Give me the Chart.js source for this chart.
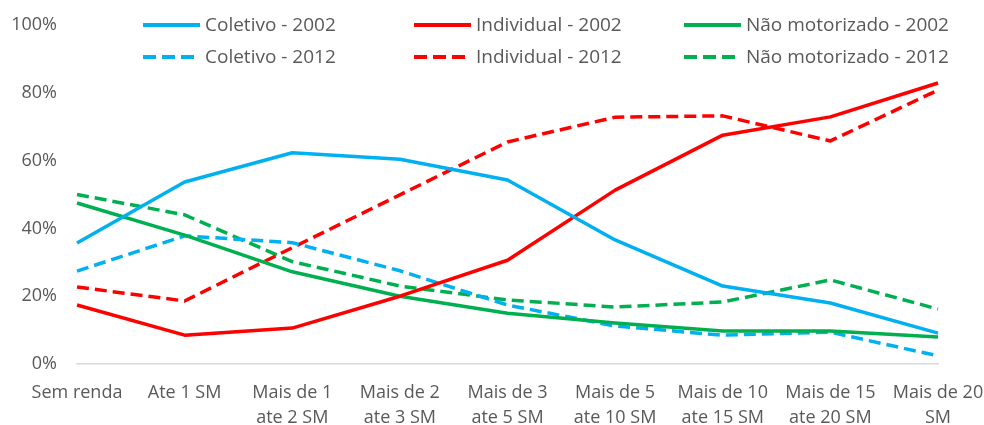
<!DOCTYPE html>
<html>
<head>
<meta charset="utf-8">
<script src="https://cdn.jsdelivr.net/npm/chart.js@4.4.1/dist/chart.umd.min.js"></script>
<style>
html,body{margin:0;padding:0;background:#fff;}
#wrap{width:984px;height:425px;position:relative;}
</style>
</head>
<body>
<div id="wrap"><canvas id="c" width="984" height="425"></canvas></div>
<script>
const categories = [
  "Sem renda",
  "Ate 1 SM",
  ["Mais de 1", "ate 2 SM"],
  ["Mais de 2", "ate 3 SM"],
  ["Mais de 3", "ate 5 SM"],
  ["Mais de 5", "ate 10 SM"],
  ["Mais de 10", "ate 15 SM"],
  ["Mais de 15", "ate 20 SM"],
  ["Mais de 20", "SM"]
];
const coletivo2002     = [35.7, 53.7, 62.3, 60.4, 54.3, 36.6, 23.0, 18.0, 9.1];
const individual2002   = [17.4, 8.5, 10.6, 20.0, 30.6, 51.3, 67.5, 72.9, 82.9];
const naoMotor2002     = [47.5, 38.0, 27.2, 20.0, 15.0, 12.1, 9.7, 9.7, 8.0];
const coletivo2012     = [27.4, 37.8, 35.8, 27.5, 17.4, 11.2, 8.5, 9.4, 2.4];
const individual2012   = [22.7, 18.6, 34.3, 49.9, 65.5, 72.8, 73.2, 65.8, 80.8];
const naoMotor2012     = [50.0, 44.0, 30.2, 23.0, 18.9, 16.8, 18.3, 24.8, 16.2];
const yTicks = [0, 20, 40, 60, 80, 100];

const BLUE = '#00B0F0', RED = '#FF0000', GREEN = '#00B050';
const DASH = [12, 6];
const FONT = '"Open Sans", sans-serif';
const TXT = '#595959';

function ds(label, data, color, dashed) {
  return {
    label, data,
    borderColor: color, backgroundColor: color,
    borderWidth: 3.5,
    borderDash: dashed ? DASH : [],
    pointRadius: 0, pointHoverRadius: 0,
    tension: 0, fill: false,
    borderCapStyle: 'butt', borderJoinStyle: 'round'
  };
}

const datasets = [
  ds('Coletivo - 2002', coletivo2002, BLUE, false),
  ds('Individual - 2002', individual2002, RED, false),
  ds('Não motorizado - 2002', naoMotor2002, GREEN, false),
  ds('Coletivo - 2012', coletivo2012, BLUE, true),
  ds('Individual - 2012', individual2012, RED, true),
  ds('Não motorizado - 2012', naoMotor2012, GREEN, true)
];

const legendPlugin = {
  id: 'customLegend',
  afterDraw(chart) {
    const ctx = chart.ctx;
    const colX = [143, 414, 684];
    const rowY = [25, 57];
    const lineLen = 57;
    ctx.save();
    ctx.font = '19px ' + FONT;
    ctx.textBaseline = 'middle';
    ctx.textAlign = 'left';
    chart.data.datasets.forEach((d, i) => {
      const col = i % 3, row = Math.floor(i / 3);
      const x = colX[col], y = rowY[row];
      ctx.beginPath();
      ctx.strokeStyle = d.borderColor;
      ctx.lineWidth = 4;
      ctx.lineCap = 'butt';
      ctx.setLineDash(d.borderDash.length ? [13, 6] : []);
      ctx.moveTo(x, y);
      ctx.lineTo(x + lineLen, y);
      ctx.stroke();
      ctx.setLineDash([]);
      ctx.fillStyle = TXT;
      ctx.fillText(d.label, x + lineLen + 5, y + 1);
    });
    ctx.restore();
  }
};

new Chart(document.getElementById('c'), {
  type: 'line',
  data: { labels: categories, datasets },
  options: {
    responsive: false,
    animation: false,
    devicePixelRatio: 1,
    layout: { padding: { top: 25, left: 0, right: 46, bottom: 0 } },
    plugins: { legend: { display: false }, tooltip: { enabled: false } },
    scales: {
      x: {
        offset: false,
        grid: { display: false, drawTicks: false },
        border: { display: true, color: '#d9d9d9', width: 1.5 },
        ticks: {
          color: TXT, font: { family: FONT, size: 18, lineHeight: 1.4 },
          padding: 16, maxRotation: 0, minRotation: 0, autoSkip: false
        },
        afterFit(scale) {
          scale.height = 61;
          scale.paddingLeft = 0;
          scale.paddingRight = 0;
        }
      },
      y: {
        min: 0, max: 100,
        afterBuildTicks(scale) { scale.ticks = yTicks.map(v => ({ value: v })); },
        grid: { display: false, drawTicks: false },
        border: { display: false },
        ticks: {
          color: TXT, font: { family: FONT, size: 18 },
          padding: 20,
          callback: v => v + '%'
        },
        afterFit(scale) {
          scale.width = 77;
          scale.paddingTop = 0;
          scale.paddingBottom = 0;
        }
      }
    }
  },
  plugins: [legendPlugin]
});
</script>
</body>
</html>
